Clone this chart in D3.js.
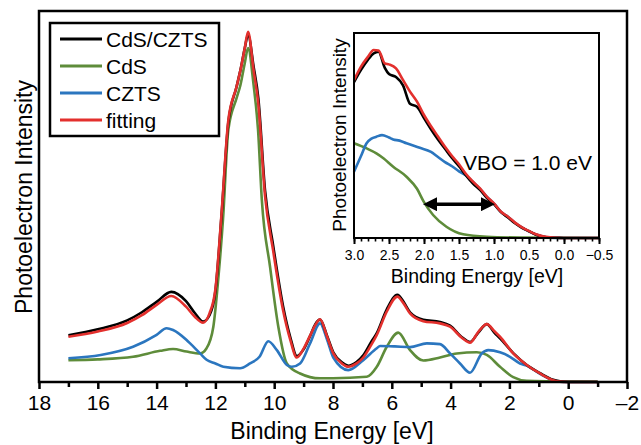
<!DOCTYPE html>
<html>
<head>
<meta charset="utf-8">
<script src="https://cdn.jsdelivr.net/npm/d3@7"></script>
<style>
  body { margin: 0; background: #fff; }
  text { font-family: "Liberation Sans", Arial, sans-serif; fill: #000; }
</style>
</head>
<body>
<div id="chart"></div>
<script>
// main spectrum, binding energy [eV] vs intensity (0-100, arb.)
var fitE = [17, 16, 15, 14.5, 14, 13.5, 13, 12.7, 12.42, 12.2, 12.0, 11.79, 11.56, 11.28, 11.15, 11.0, 10.89, 10.7, 10.54, 10.31, 10.04, 9.7, 9.45, 9.23, 9.0, 8.78, 8.6, 8.44, 8.2, 7.99, 7.7, 7.48, 7.2, 6.97, 6.7, 6.51, 6.17, 5.81, 5.6, 5.38, 4.93, 4.36, 4.02, 3.6, 3.34, 3.05, 2.77, 2.5, 2.32, 1.87, 1.41, 0.96, 0.51, 0.28, 0, -1];
var fitI = [12.2, 13.6, 15.9, 18, 20.8, 23.2, 20.3, 17.6, 16.0, 18.5, 25, 45.5, 70.6, 79.6, 84, 90, 94.4, 84, 75, 50, 35.6, 19.4, 11.3, 6.6, 9, 12.5, 15.4, 16.9, 12.2, 7.7, 5.0, 4.1, 5.0, 6.6, 10, 12.7, 19, 23.0, 21.2, 18.5, 16.4, 15.8, 14.9, 11.8, 10.6, 13.6, 15.6, 13.6, 12.2, 7.7, 4.6, 2.3, 0.5, 0.1, 0, 0];
var expI = [12.6, 14.2, 16.6, 18.8, 21.6, 24.3, 21.8, 18.6, 16.3, 18, 24.5, 45, 70, 79.6, 84, 90, 93.6, 85, 76.5, 51.5, 37, 20.5, 12, 7, 8.8, 12.4, 15.6, 16.8, 12.4, 8, 5.3, 4.4, 5.4, 7.2, 10.8, 13.2, 19.6, 23.5, 21.6, 18.8, 16.8, 16.2, 15.2, 12, 10.8, 13.4, 15.6, 13.2, 11.8, 7.8, 4.6, 2.4, 0.6, 0.2, 0, 0];

var cdsE = [17, 16, 14.8, 13.88, 13.44, 12.98, 12.52, 12.3, 12.07, 11.9, 11.74, 11.56, 11.28, 11.15, 11.0, 10.89, 10.7, 10.55, 10.42, 10.14, 9.86, 9.57, 9.12, 8.44, 8.0, 6.85, 6.51, 6.17, 5.78, 5.38, 4.93, 4.36, 3.79, 3.11, 2.77, 2.32, 1.87, 1.41, 0.5, -1];
var cdsI = [5.9, 6.1, 6.8, 8.4, 8.9, 8.2, 7.7, 9.1, 14.9, 28, 44, 68, 76.5, 80, 86, 90, 80, 68, 49, 31, 14.9, 5, 2.3, 1, 1.0, 1.4, 4.1, 9.5, 13.3, 8.6, 5.8, 6.6, 7.7, 8.0, 7.3, 4.1, 1.3, 0.3, 0.2, 0.1];

var cztsE = [17, 15.9, 14.8, 14, 13.66, 13.44, 12.98, 12.86, 12.52, 12.3, 12.0, 11.73, 11.16, 10.82, 10.5, 10.2, 9.91, 9.57, 9.4, 9.12, 8.78, 8.44, 8.2, 7.99, 7.48, 6.97, 6.51, 6.4, 5.9, 5.38, 4.81, 4.36, 4.02, 3.68, 3.34, 2.94, 2.72, 2.32, 1.98, 1.64, 1.41, 0.96, 0.51, 0.28, 0, -1];
var cztsI = [6.4, 7.3, 9.5, 12.7, 14.5, 14, 11.3, 10.4, 7.7, 6, 5, 4.1, 3.7, 5, 6.8, 11, 8.6, 4.6, 4.1, 5, 10.4, 15.8, 11.4, 6.6, 3.2, 5.9, 9.1, 9.7, 9.6, 9.4, 10.4, 10.2, 7.7, 5, 2.5, 7.7, 8.6, 8.0, 6.8, 5.0, 4.4, 2.2, 0.5, 0.1, 0, 0];

// inset, valence band edge region
var inFitE = [3.0, 2.9, 2.8, 2.72, 2.65, 2.56, 2.5, 2.4, 2.3, 2.2, 2.1, 2.0, 1.9, 1.8, 1.7, 1.6, 1.5, 1.4, 1.3, 1.2, 1.1, 1.0, 0.9, 0.8, 0.7, 0.6, 0.5, 0.4, 0.3, 0.2, 0.1, 0, -0.5];
var inFitI = [77, 83.6, 88.4, 91.7, 91.5, 85.2, 84.7, 82.8, 77.1, 71.4, 66.5, 60, 54.5, 49.5, 44.5, 40, 36, 31.2, 27.5, 24.2, 20.1, 16.9, 12.8, 10.4, 7.5, 5.2, 3.4, 1.8, 0.8, 0.3, 0.1, 0, 0];
var inExpI = [76, 82, 87, 90, 90.9, 83, 80, 78.5, 74.5, 65.5, 64, 58.5, 53, 48, 43.5, 39, 35, 30.5, 26.5, 23.5, 19.5, 16.5, 12.6, 10.0, 7.2, 5.0, 3.3, 1.6, 0.6, 0.2, 0.1, 0, 0];

var inCztsE = [3.0, 2.9, 2.82, 2.75, 2.68, 2.6, 2.5, 2.44, 2.35, 2.25, 2.06, 1.9, 1.8, 1.7, 1.6, 1.5, 1.4, 1.3, 1.2, 1.1, 1.0, 0.9, 0.8, 0.7, 0.6, 0.5, 0.4, 0.3, 0.2, 0, -0.5];
var inCztsI = [32.3, 40, 46.2, 48.5, 49.4, 50.2, 49, 48.1, 47.5, 46.2, 44, 42, 39.5, 37, 35, 32.5, 30.5, 27.3, 24, 20, 16.8, 12.7, 10.3, 7.4, 5.1, 3.3, 1.7, 0.7, 0.2, 0, 0];

var inCdsE = [3.0, 2.82, 2.68, 2.58, 2.44, 2.25, 2.1, 2.0, 1.87, 1.68, 1.44, 1.1, 0.62, -0.5];
var inCdsI = [46.2, 43.7, 41.3, 38.9, 34.8, 29.9, 24, 17.5, 11.2, 5.5, 1.8, 0.6, 0.2, 0];

var vbo = [2.0, 1.0];   // arrow ends in the inset [eV]
var legendNames = ["CdS/CZTS", "CdS", "CZTS", "fitting"];
var colors = {exp: "#000000", cds: "#5e8c3a", czts: "#2b76bf", fit: "#e3302d"};

var width = 641, height = 445;

var svg = d3.select("#chart").append("svg")
  .attr("width", width)
  .attr("height", height);

function zip(e, v) {
  return e.map(function(d, i) { return [d, v[i]]; });
}

// ---- main plot
var x = d3.scaleLinear().domain([18, -2]).range([39, 627]);
var y = d3.scaleLinear().domain([0, 100]).range([382, 11]);

var line = d3.line()
  .x(function(d) { return x(d[0]); })
  .y(function(d) { return y(d[1]); })
  .curve(d3.curveMonotoneX);

var series = [
  {data: zip(cdsE, cdsI), color: colors.cds},
  {data: zip(cztsE, cztsI), color: colors.czts},
  {data: zip(fitE, expI), color: colors.exp},
  {data: zip(fitE, fitI), color: colors.fit}
];

svg.append("g").selectAll("path")
  .data(series)
  .enter().append("path")
  .attr("d", function(d) { return line(d.data); })
  .attr("fill", "none")
  .attr("stroke", function(d) { return d.color; })
  .attr("stroke-width", 2.6)
  .attr("stroke-linejoin", "round");

// frame
svg.append("rect")
  .attr("x", 39).attr("y", 11)
  .attr("width", 588).attr("height", 371)
  .attr("fill", "none").attr("stroke", "#000").attr("stroke-width", 2.5);

var xAxis = svg.append("g")
  .attr("transform", "translate(0,382)")
  .call(d3.axisBottom(x).tickValues(d3.range(18, -2.1, -2)).tickSize(7).tickPadding(6)
    .tickFormat(function(d) { return d < 0 ? "\u2013" + (-d) : d; }));
xAxis.select(".domain").remove();
xAxis.selectAll("line").attr("stroke-width", 2.5);
xAxis.selectAll("text").attr("font-size", 21).attr("font-family", null);

var xMinor = svg.append("g")
  .attr("transform", "translate(0,382)")
  .call(d3.axisBottom(x).tickValues(d3.range(17, -2, -2)).tickSize(5).tickFormat(""));
xMinor.select(".domain").remove();
xMinor.selectAll("line").attr("stroke-width", 2.5);

svg.append("text")
  .attr("x", 332).attr("y", 439)
  .attr("text-anchor", "middle")
  .attr("font-size", 23)
  .text("Binding Energy [eV]");

svg.append("text")
  .attr("transform", "translate(32,197) rotate(-90)")
  .attr("text-anchor", "middle")
  .attr("font-size", 23)
  .text("Photoelectron Intensity");

// legend
var legend = svg.append("g");
legend.append("rect")
  .attr("x", 50).attr("y", 23).attr("width", 169).attr("height", 113)
  .attr("fill", "#fff").attr("stroke", "#000").attr("stroke-width", 2.5);

var legColors = [colors.exp, colors.cds, colors.czts, colors.fit];
var item = legend.selectAll("g.item")
  .data(legendNames)
  .enter().append("g")
  .attr("class", "item")
  .attr("transform", function(d, i) { return "translate(0," + (39 + i * 27) + ")"; });
item.append("line")
  .attr("x1", 60).attr("x2", 102)
  .attr("stroke", function(d, i) { return legColors[i]; })
  .attr("stroke-width", 3);
item.append("text")
  .attr("x", 106).attr("y", 7.5)
  .attr("font-size", 21)
  .text(function(d) { return d; });

// ---- inset
var ix = d3.scaleLinear().domain([3.0, -0.5]).range([354, 599]);
var iy = d3.scaleLinear().domain([0, 100]).range([238, 33]);

var iline = d3.line()
  .x(function(d) { return ix(d[0]); })
  .y(function(d) { return iy(d[1]); })
  .curve(d3.curveMonotoneX);

svg.append("rect")
  .attr("x", 354).attr("y", 33)
  .attr("width", 245).attr("height", 205)
  .attr("fill", "#fff");

var iseries = [
  {data: zip(inCdsE, inCdsI), color: colors.cds},
  {data: zip(inCztsE, inCztsI), color: colors.czts},
  {data: zip(inFitE, inExpI), color: colors.exp},
  {data: zip(inFitE, inFitI), color: colors.fit}
];

svg.append("g").selectAll("path")
  .data(iseries)
  .enter().append("path")
  .attr("d", function(d) { return iline(d.data); })
  .attr("fill", "none")
  .attr("stroke", function(d) { return d.color; })
  .attr("stroke-width", 2.6)
  .attr("stroke-linejoin", "round");

svg.append("rect")
  .attr("x", 354).attr("y", 33)
  .attr("width", 245).attr("height", 205)
  .attr("fill", "none").attr("stroke", "#000").attr("stroke-width", 2);

var ixAxis = svg.append("g")
  .attr("transform", "translate(0,238)")
  .call(d3.axisBottom(ix).tickValues(d3.range(3.0, -0.51, -0.5)).tickSize(6).tickPadding(6)
    .tickFormat(d3.format(".1f")));
ixAxis.select(".domain").remove();
ixAxis.selectAll("line").attr("stroke-width", 2);
ixAxis.selectAll("text").attr("font-size", 14).attr("font-family", null);

var ixMinor = svg.append("g")
  .attr("transform", "translate(0,238)")
  .call(d3.axisBottom(ix).tickValues(d3.range(30, -6, -1).map(function(d) { return d / 10; })).tickSize(3.5).tickFormat(""));
ixMinor.select(".domain").remove();
ixMinor.selectAll("line").attr("stroke-width", 1.6);

svg.append("text")
  .attr("x", 477).attr("y", 283)
  .attr("text-anchor", "middle")
  .attr("font-size", 19.5)
  .text("Binding Energy [eV]");

svg.append("text")
  .attr("transform", "translate(346,135) rotate(-90)")
  .attr("text-anchor", "middle")
  .attr("font-size", 19)
  .text("Photoelectron Intensity");

// VBO arrow
svg.append("defs").selectAll("marker")
  .data(["start", "end"])
  .enter().append("marker")
  .attr("id", function(d) { return "arr-" + d; })
  .attr("viewBox", "0 0 10 10")
  .attr("refX", 5).attr("refY", 5)
  .attr("markerWidth", 4).attr("markerHeight", 4)
  .attr("orient", "auto-start-reverse")
  .append("path")
  .attr("d", "M0,0 L10,5 L0,10 z")
  .attr("fill", "#000");

svg.append("line")
  .attr("x1", ix(vbo[0]) + 6).attr("x2", ix(vbo[1]) - 6)
  .attr("y1", iy(16.5)).attr("y2", iy(16.5))
  .attr("stroke", "#000").attr("stroke-width", 3.5)
  .attr("marker-start", "url(#arr-start)")
  .attr("marker-end", "url(#arr-end)");

svg.append("text")
  .attr("x", 463).attr("y", 170)
  .attr("font-size", 21)
  .text("VBO = " + (vbo[0] - vbo[1]).toFixed(1) + " eV");
</script>
</body>
</html>
